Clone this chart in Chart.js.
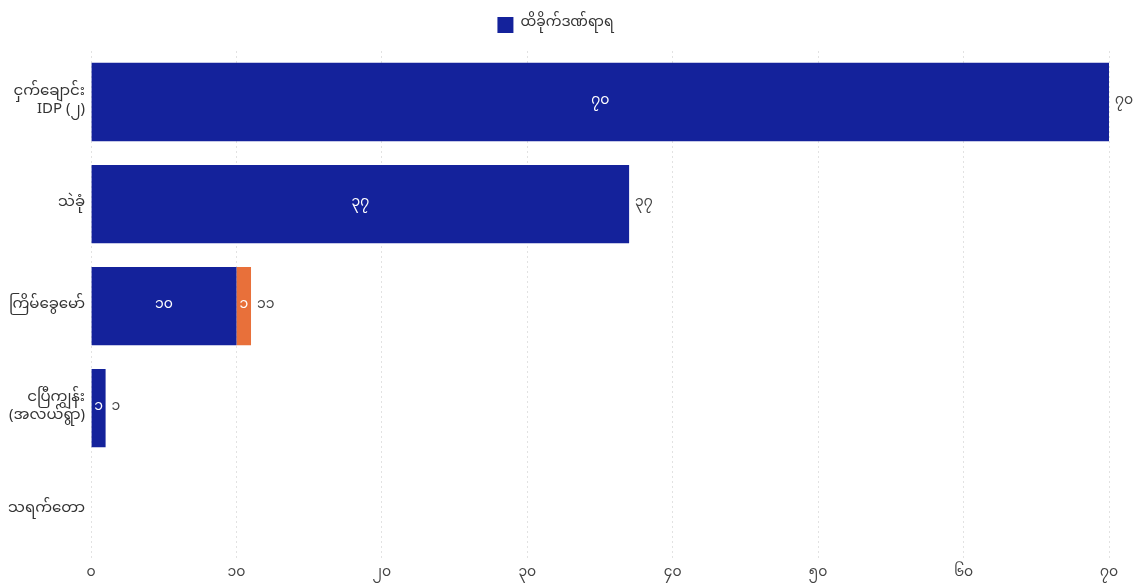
<!DOCTYPE html>
<html>
<head>
<meta charset="utf-8">
<script src="https://cdn.jsdelivr.net/npm/chart.js@4.4.1/dist/chart.umd.min.js"></script>
<style>
  html, body { margin: 0; padding: 0; background: #fff; }
  #wrap { width: 1139px; height: 588px; }
</style>
</head>
<body>
<div id="wrap"><canvas id="injuryChart"></canvas></div>
<script>
const places = [
    ['ငှက်ချောင်း', 'IDP (၂)'],
    'သဲခုံ',
    'ကြိမ်ခွေမော်',
    ['ငပြီကျွန်း', '(အလယ်ရွာ)'],
    'သရက်တော'
];
const injured = [70, 37, 10, 1, 0];
const otherCount = [0, 0, 1, 0, 0];
const xTicks = [0, 10, 20, 30, 40, 50, 60, 70];

const FONT = "'Noto Sans Myanmar', 'Padauk', 'Myanmar Text', 'Noto Sans', sans-serif";

// western digits -> burmese digits
function mmNum(n) {
    return String(n).replace(/[0-9]/g, d => String.fromCharCode(0x1040 + Number(d)));
}

// a bit more room under the legend
const legendGap = {
    id: 'legendGap',
    beforeInit(chart) {
        const fit = chart.legend.fit;
        chart.legend.fit = function () {
            fit.bind(chart.legend)();
            this.height += 8;
        };
    }
};

const barLabels = {
    id: 'barLabels',
    afterDatasetsDraw(chart) {
        const ctx = chart.ctx;
        ctx.save();
        ctx.font = '14px ' + FONT;
        ctx.textBaseline = 'middle';
        ctx.textAlign = 'center';
        ctx.fillStyle = '#ffffff';
        chart.data.datasets.forEach((ds, i) => {
            chart.getDatasetMeta(i).data.forEach((bar, j) => {
                const v = ds.data[j];
                if (!v) return;
                ctx.fillText(mmNum(v), (bar.x + bar.base) / 2, bar.y);
            });
        });
        // totals at the end of each stack
        ctx.textAlign = 'left';
        ctx.fillStyle = '#444';
        const last = chart.getDatasetMeta(chart.data.datasets.length - 1).data;
        last.forEach((bar, j) => {
            const total = injured[j] + otherCount[j];
            if (!total) return;
            const x = chart.scales.x.getPixelForValue(total);
            ctx.fillText(mmNum(total), x + 6, bar.y);
        });
        ctx.restore();
    }
};

const ctx = document.getElementById('injuryChart').getContext('2d');

const injuryChart = new Chart(ctx, {
    type: 'bar',
    data: {
        labels: places,
        datasets: [{
            label: 'ထိခိုက်ဒဏ်ရာရ',
            data: injured,
            backgroundColor: '#14229b'
        }, {
            label: 'other',
            data: otherCount,
            backgroundColor: '#e8703a'
        }]
    },
    options: {
        indexAxis: 'y',
        responsive: true,
        maintainAspectRatio: false,
        animation: false,
        categoryPercentage: 0.8,
        barPercentage: 0.96,
        layout: { padding: { left: 2, right: 30, top: 1, bottom: 0 } },
        plugins: {
            legend: {
                position: 'top',
                labels: {
                    boxWidth: 16,
                    boxHeight: 16,
                    padding: 16,
                    color: '#333',
                    font: { family: FONT, size: 14 },
                    filter: item => item.datasetIndex === 0
                }
            },
            tooltip: { enabled: false }
        },
        scales: {
            x: {
                stacked: true,
                min: 0,
                max: 70,
                afterBuildTicks: axis => { axis.ticks = xTicks.map(v => ({ value: v })); },
                border: { display: false, dash: [2, 3] },
                grid: { color: '#e2e2e2', drawTicks: false },
                ticks: {
                    padding: 5,
                    color: '#444',
                    font: { family: FONT, size: 14 },
                    callback: v => mmNum(v)
                }
            },
            y: {
                stacked: true,
                border: { display: false },
                grid: { display: false, drawTicks: false },
                ticks: {
                    padding: 6,
                    color: '#333',
                    font: { family: FONT, size: 15 }
                }
            }
        }
    },
    plugins: [legendGap, barLabels]
});
</script>
</body>
</html>
